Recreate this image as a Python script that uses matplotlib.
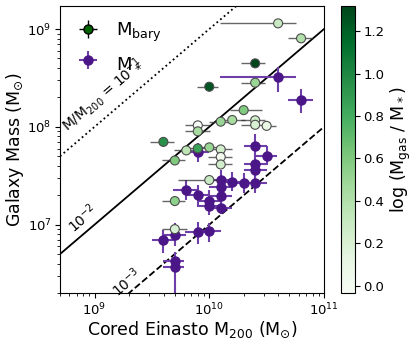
import numpy as np
import matplotlib
matplotlib.use("Agg")
import matplotlib.pyplot as plt
from matplotlib.colors import Normalize

# ---- Baryonic mass points (log10 values) ----
bary_logm200 = [10.60, 10.80, 10.40, 10.40, 10.00, 10.30, 10.10, 10.20, 10.40, 10.40,
                10.50, 9.90, 9.90, 9.60, 9.80, 9.90, 10.00, 10.10, 10.10, 10.10,
                9.70, 10.00, 9.70, 9.70]
bary_logm = [9.058, 8.905, 8.649, 8.451, 8.410, 8.171, 8.053, 8.070, 8.067, 8.021,
             8.010, 8.015, 7.954, 7.846, 7.759, 7.779, 7.790, 7.769, 7.692, 7.615,
             7.656, 7.456, 7.241, 6.954]
bary_xerr_lo = [0.51, 0.11, 0.12, 0.12, 0.11, 0.12, 0.10, 0.10, 0.12, 0.12,
                0.04, 0.11, 0.11, 0.12, 0.11, 0.11, 0.11, 0.11, 0.11, 0.11,
                0.11, 0.27, 0.11, 0.11]
bary_xerr_hi = [0.16, 0.10, 0.09, 0.09, 0.08, 0.16, 0.10, 0.11, 0.09, 0.09,
                0.08, 0.11, 0.11, 0.09, 0.10, 0.11, 0.10, 0.10, 0.10, 0.10,
                0.09, 0.08, 0.09, 0.11]
gas_ratio = [0.30, 0.40, 1.32, 0.50, 1.25, 0.60, 0.50, 0.45, 0.25, 0.20,
             0.10, -0.035, 0.45, 0.95, 0.35, 0.85, 0.50, 0.25, 0.00, 0.25,
             0.60, 0.30, 0.55, 0.20]

# ---- Stellar mass points ----
star_logm200 = [10.60, 10.80, 9.90, 10.40, 10.50, 10.40, 10.40, 10.10, 10.20, 10.30,
                10.40, 10.10, 9.80, 9.90, 10.10, 10.00, 10.00, 10.10, 9.60, 9.70,
                9.90, 10.00, 9.70, 9.70]
star_logm = [8.511, 8.277, 7.738, 7.803, 7.705, 7.621, 7.554, 7.458, 7.441, 7.428,
             7.421, 7.387, 7.356, 7.303, 7.294, 7.239, 7.195, 7.169, 6.846, 6.897,
             6.923, 6.938, 6.624, 6.562]
star_xerr_lo = [0.51, 0.11, 0.10, 0.10, 0.10, 0.10, 0.10, 0.11, 0.10, 0.10,
                0.10, 0.10, 0.12, 0.11, 0.10, 0.11, 0.11, 0.10, 0.10, 0.10,
                0.11, 0.10, 0.10, 0.10]
star_xerr_hi = [0.16, 0.10, 0.10, 0.10, 0.09, 0.10, 0.10, 0.10, 0.10, 0.10,
                0.10, 0.10, 0.10, 0.11, 0.10, 0.10, 0.10, 0.10, 0.10, 0.10,
                0.10, 0.10, 0.08, 0.08]
star_yerr_lo = [0.15, 0.14, 0.10, 0.10, 0.10, 0.10, 0.10, 0.10, 0.10, 0.10,
                0.10, 0.10, 0.10, 0.12, 0.12, 0.10, 0.10, 0.06, 0.14, 0.12,
                0.12, 0.12, 0.10, 0.40]
star_yerr_hi = [0.10, 0.11, 0.10, 0.12, 0.10, 0.10, 0.10, 0.10, 0.10, 0.10,
                0.10, 0.10, 0.10, 0.10, 0.10, 0.12, 0.10, 0.10, 0.10, 0.12,
                0.10, 0.08, 0.10, 0.10]

ratio_levels = [1e-1, 1e-2, 1e-3]
ratio_styles = [":", "-", "--"]
ratio_labels = ["M/M$_{200}$ = 10$^{-1}$", "10$^{-2}$", "10$^{-3}$"]
label_pos = [(9.07, 8.322), (8.895, 7.062), (9.279, 6.415)]


def asym(center, lo, hi):
    c = np.asarray(center, float)
    lo = np.asarray(lo, float)
    hi = np.asarray(hi, float)
    return 10**c, np.vstack([10**c - 10**(c - lo), 10**(c + hi) - 10**c])


plt.rcParams['font.family'] = ['DejaVu Sans']
fig = plt.figure(figsize=(4.15, 3.43), dpi=100)
ax = fig.add_axes([0.1446, 0.1458, 0.6361, 0.8367])
cax = fig.add_axes([0.8217, 0.1458, 0.0337, 0.8367])

xlim = (5e8, 1e11)
ylim = (2e6, 1.72e9)
xx = np.array(xlim)
for lev, ls in zip(ratio_levels, ratio_styles):
    ax.plot(xx, lev * xx, ls=ls, color='black', lw=1.3, zorder=1)
for (lx, ly), txt in zip(label_pos, ratio_labels):
    ax.text(10**lx, 10**ly, txt, rotation=40.5, ha='center', va='center',
            rotation_mode='anchor', fontsize=10)

purple_m = '#4b1687'
purple_l = '#6e3fa8'
sx, sxe = asym(star_logm200, star_xerr_lo, star_xerr_hi)
sy, sye = asym(star_logm, star_yerr_lo, star_yerr_hi)
ax.errorbar(sx, sy, xerr=sxe, yerr=sye, fmt='o', ms=6.5, mfc=purple_m, mec=purple_m,
            ecolor=purple_l, elinewidth=1.5, capsize=0, zorder=2)

bx, bxe = asym(bary_logm200, bary_xerr_lo, bary_xerr_hi)
by = 10**np.asarray(bary_logm)
ax.errorbar(bx, by, xerr=bxe, fmt='none', ecolor='0.2', elinewidth=1.0, alpha=0.75, zorder=3)
norm = Normalize(vmin=min(gas_ratio), vmax=max(gas_ratio))
sc = ax.scatter(bx, by, c=gas_ratio, cmap='Greens', norm=norm, s=42,
                edgecolors='0.3', linewidths=0.8, zorder=4)

# legend handles
ax.errorbar([np.nan], [np.nan], xerr=[[1], [1]], yerr=[[1], [1]], fmt='o', ms=6.5,
            mfc='darkgreen', mec='black', ecolor='black', elinewidth=1.0,
            label='M$_{\\rm bary}$')
ax.errorbar([np.nan], [np.nan], xerr=[[1], [1]], yerr=[[1], [1]], fmt='o', ms=6.5,
            mfc=purple_m, mec=purple_m, ecolor=purple_l, elinewidth=1.5,
            label='M$_*$')
ax.legend(loc='upper left', frameon=False, fontsize=13, handlelength=1.5,
          borderaxespad=0.4, labelspacing=0.5)

ax.set_xscale('log')
ax.set_yscale('log')
ax.set_xlim(*xlim)
ax.set_ylim(*ylim)
ax.tick_params(labelsize=9.5, pad=2.5)
ax.set_xlabel('Cored Einasto M$_{200}$ (M$_{\\odot}$)', fontsize=12.5, labelpad=1)
ax.set_ylabel('Galaxy Mass (M$_{\\odot}$)', fontsize=12.5, labelpad=1)

cb = fig.colorbar(sc, cax=cax)
cb.set_ticks([0.0, 0.2, 0.4, 0.6, 0.8, 1.0, 1.2])
cb.ax.tick_params(labelsize=9.5, pad=2.5)
cb.set_label('log (M$_{\\rm gas}$ / M$_*$)', fontsize=12.5, labelpad=3)

fig.savefig('out.png', dpi=100)
